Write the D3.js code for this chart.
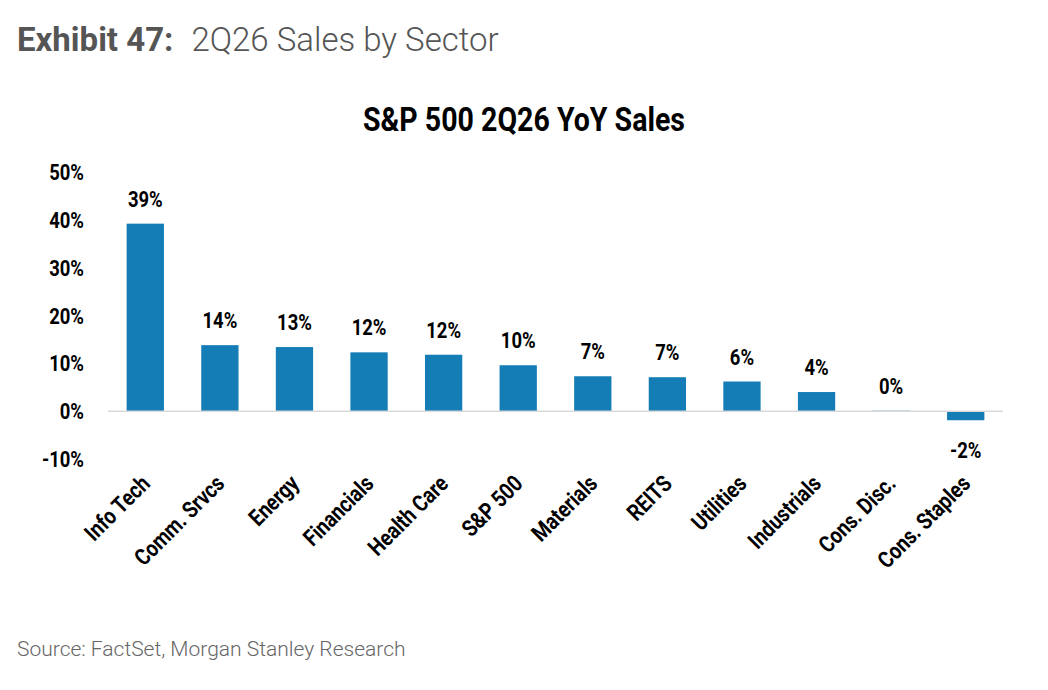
<!DOCTYPE html>
<html><head><meta charset="utf-8">
<script src="https://cdn.jsdelivr.net/npm/d3@7"></script>
<style>body{margin:0;background:#fff}</style></head>
<body><svg id="c" width="1048" height="690"></svg>
<script>
const categories=["Info Tech","Comm. Srvcs","Energy","Financials","Health Care","S&P 500","Materials","REITS","Utilities","Industrials","Cons. Disc.","Cons. Staples"];
const values=[39.2,13.8,13.4,12.3,11.8,9.6,7.3,7.1,6.2,4.0,0.1,-1.9];
const labels=["39%","14%","13%","12%","12%","10%","7%","7%","6%","4%","0%","-2%"];
const yTicks=[-10,0,10,20,30,40,50];
const svg=d3.select("#c");
const F="Roboto, 'Liberation Sans', sans-serif";
const S=0.84; // condensed look
function ctext(sel,x,y,extra){return sel.attr("transform",`translate(${x},${y})${extra||""} scale(${S},1)`);}
svg.append("text").attr("x",17).attr("y",51).attr("font-family",F).attr("font-size",33).attr("fill","#555")
 .html('<tspan font-weight="bold">Exhibit 47:</tspan><tspan dx="18" font-weight="300">2Q26 Sales by Sector</tspan>');
ctext(svg.append("text"),524,131).attr("text-anchor","middle").attr("font-family",F).attr("font-weight","bold").attr("font-size",34).text("S&P 500 2Q26 YoY Sales");
const x=d3.scaleBand().domain(categories).range([108,1003]).paddingInner(0.5).paddingOuter(0.25);
const y=d3.scaleLinear().domain([-10,50]).range([459,172]);
const g=svg.append("g");
g.selectAll("text.yt").data(yTicks).join("text").each(function(d){ctext(d3.select(this),84,y(d)+8);})
 .attr("text-anchor","end").attr("font-family",F).attr("font-weight","bold").attr("font-size",22).text(d=>d+"%");
g.selectAll("rect").data(values).join("rect").attr("x",(d,i)=>x(categories[i])).attr("width",x.bandwidth())
 .attr("y",d=>y(Math.max(0,d))).attr("height",d=>Math.abs(y(d)-y(0))).attr("fill","#157db5");
g.append("line").attr("x1",108).attr("x2",1003).attr("y1",y(0)).attr("y2",y(0)).attr("stroke","#d9d9d9").attr("stroke-width",1.5);
g.selectAll("text.v").data(values).join("text").each(function(d,i){ctext(d3.select(this),x(categories[i])+x.bandwidth()/2,d>=0?y(d)-17:y(d)+38);})
 .attr("text-anchor","middle").attr("font-family",F).attr("font-weight","bold").attr("font-size",22)
 .text((d,i)=>labels[i]);
g.selectAll("text.c").data(categories).join("text")
 .attr("transform",d=>`translate(${x(d)+x.bandwidth()/2+6},${y(-10)+26}) rotate(-45) scale(${S},1)`)
 .attr("text-anchor","end").attr("font-family",F).attr("font-weight","bold").attr("font-size",23).text(d=>d);
svg.append("text").attr("x",17).attr("y",656).attr("font-family",F).attr("font-weight","300").attr("font-size",21).attr("fill","#666").text("Source: FactSet, Morgan Stanley Research");
</script></body></html>
